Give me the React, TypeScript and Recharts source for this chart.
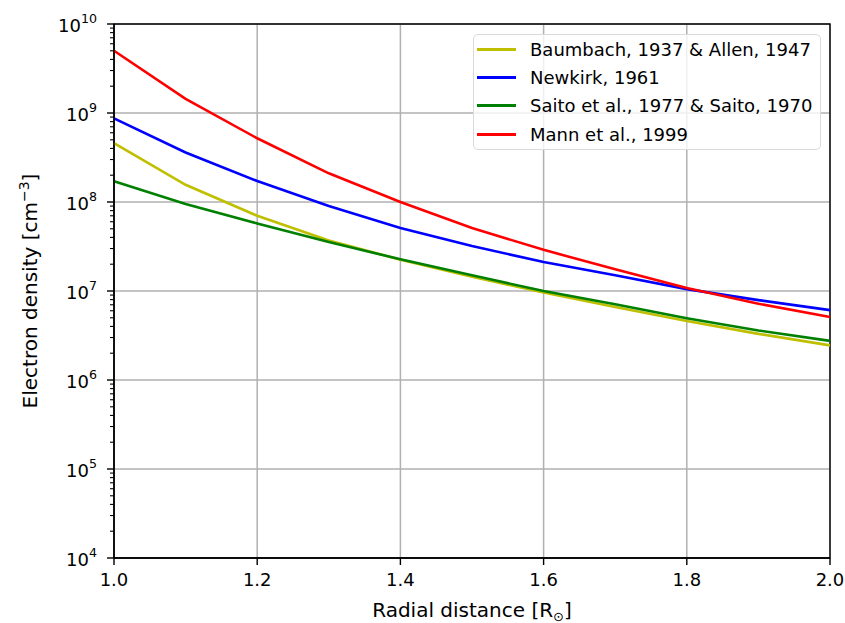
import { LineChart, Line, XAxis, YAxis, CartesianGrid, ReferenceArea, Legend } from "recharts"

const FONT = "'DejaVu Sans', sans-serif"

const radius = [1.0, 1.1, 1.2, 1.3, 1.4, 1.5, 1.6, 1.7, 1.8, 1.9, 2.0]
const baumbachAllen = [4.6e8, 1.56e8, 7.0e7, 3.7e7, 2.25e7, 1.45e7, 9.6e6, 6.6e6, 4.6e6, 3.3e6, 2.45e6]
const newkirk = [8.7e8, 3.6e8, 1.72e8, 9.0e7, 5.1e7, 3.2e7, 2.12e7, 1.5e7, 1.05e7, 7.9e6, 6.1e6]
const saito = [1.71e8, 9.5e7, 5.75e7, 3.55e7, 2.27e7, 1.5e7, 1.0e7, 7.1e6, 4.95e6, 3.6e6, 2.75e6]
const mann = [5.0e9, 1.44e9, 5.2e8, 2.1e8, 1.0e8, 5.1e7, 2.9e7, 1.75e7, 1.08e7, 7.2e6, 5.1e6]

const xTicks = [1.0, 1.2, 1.4, 1.6, 1.8, 2.0]
const yDecades = [1e4, 1e5, 1e6, 1e7, 1e8, 1e9, 1e10]
const yMinorSteps = [2, 3, 4, 5, 6, 7, 8, 9]
const yTicks = yDecades.flatMap((d, i) => (i < yDecades.length - 1 ? [d, ...yMinorSteps.map(m => d * m)] : [d]))

const series = [
  { key: "baumbach", name: "Baumbach, 1937 & Allen, 1947", color: "#bfbf00", values: baumbachAllen },
  { key: "newkirk", name: "Newkirk, 1961", color: "#0000ff", values: newkirk },
  { key: "saito", name: "Saito et al., 1977 & Saito, 1970", color: "#008000", values: saito },
  { key: "mann", name: "Mann et al., 1999", color: "#ff0000", values: mann },
]

const data = radius.map((r, i) => {
  const row: Record<string, number> = { r }
  series.forEach(s => (row[s.key] = s.values[i]))
  return row
})

function LogTick(props: any) {
  const { x, y, payload } = props
  const e = Math.log10(payload.value)
  const exp = Math.round(e)
  const major = Math.abs(e - exp) < 1e-6
  return (
    <g>
      <line x1={x - (major ? 7 : 4)} y1={y} x2={x} y2={y} stroke="#000" strokeWidth={major ? 1.4 : 1.1} />
      {major && (
        <text x={x - 17} y={y + 7.5} textAnchor="end" fill="#000" fontSize={18} fontFamily={FONT}>
          10
          <tspan dy={-8.5} fontSize={12.6}>{exp}</tspan>
        </text>
      )}
    </g>
  )
}

function LegendBox() {
  return (
    <div
      style={{
        width: 348,
        boxSizing: "border-box",
        border: "1.5px solid #dadada",
        borderRadius: 5,
        background: "rgba(255,255,255,0.8)",
        padding: "0 4px 1px 3px",
        fontFamily: FONT,
        fontSize: 18,
        color: "#000",
      }}
    >
      {series.map(s => (
        <div key={s.key} style={{ display: "flex", alignItems: "center", height: 28.3, whiteSpace: "nowrap" }}>
          <div style={{ width: 39, height: 3, background: s.color, marginRight: 14, flexShrink: 0 }} />
          <span>{s.name}</span>
        </div>
      ))}
    </div>
  )
}

export default function App() {
  return (
    <div style={{ position: "absolute", left: 0, top: 0, width: 845, height: 623, background: "#fff" }}>
      <LineChart width={845} height={623} data={data} margin={{ top: 24, right: 15, bottom: 0, left: 0 }}>
        <CartesianGrid stroke="#b0b0b0" strokeWidth={1.5} horizontalValues={yDecades} verticalValues={xTicks} />
        <XAxis
          dataKey="r"
          type="number"
          domain={[1, 2]}
          ticks={xTicks}
          interval={0}
          height={65}
          tickSize={7}
          tickMargin={8}
          tickLine={{ stroke: "#000", strokeWidth: 1.4 }}
          axisLine={{ stroke: "#000", strokeWidth: 1.4 }}
          tick={{ fill: "#000", fontSize: 18, fontFamily: FONT }}
          tickFormatter={(v: number) => v.toFixed(1)}
          label={{
            content: (p: any) => {
              const vb = p.viewBox
              return (
                <text x={vb.x + vb.width / 2} y={vb.y + 59} textAnchor="middle" fill="#000" fontSize={20} fontFamily={FONT}>
                  Radial distance [R
                  <tspan dy={4} fontSize={13}>⊙</tspan>
                  <tspan dy={-4}>]</tspan>
                </text>
              )
            },
          }}
        />
        <YAxis
          type="number"
          scale="log"
          domain={[1e4, 1e10]}
          allowDataOverflow
          ticks={yTicks}
          interval={0}
          width={114}
          tickSize={0}
          tickMargin={0}
          tickLine={false}
          axisLine={{ stroke: "#000", strokeWidth: 1.4 }}
          tick={<LogTick />}
          label={{
            content: (p: any) => {
              const vb = p.viewBox
              const cy = vb.y + vb.height / 2
              return (
                <text x={37} y={cy} transform={`rotate(-90, 37, ${cy})`} textAnchor="middle" fill="#000" fontSize={20} fontFamily={FONT}>
                  Electron density [cm
                  <tspan dy={-8} fontSize={14}>−3</tspan>
                  <tspan dy={8}>]</tspan>
                </text>
              )
            },
          }}
        />
        {series.map(s => (
          <Line
            key={s.key}
            type="linear"
            dataKey={s.key}
            name={s.name}
            stroke={s.color}
            strokeWidth={2.6}
            dot={false}
            activeDot={false}
            isAnimationActive={false}
          />
        ))}
        <ReferenceArea x1={1} x2={2} y1={1e4} y2={1e10} fill="none" stroke="#000" strokeWidth={1.4} fillOpacity={0} />
        <Legend
          layout="horizontal"
          verticalAlign="middle"
          align="center"
          wrapperStyle={{ left: 473, top: 34, width: 348 }}
          content={() => <LegendBox />}
        />
      </LineChart>
    </div>
  )
}
